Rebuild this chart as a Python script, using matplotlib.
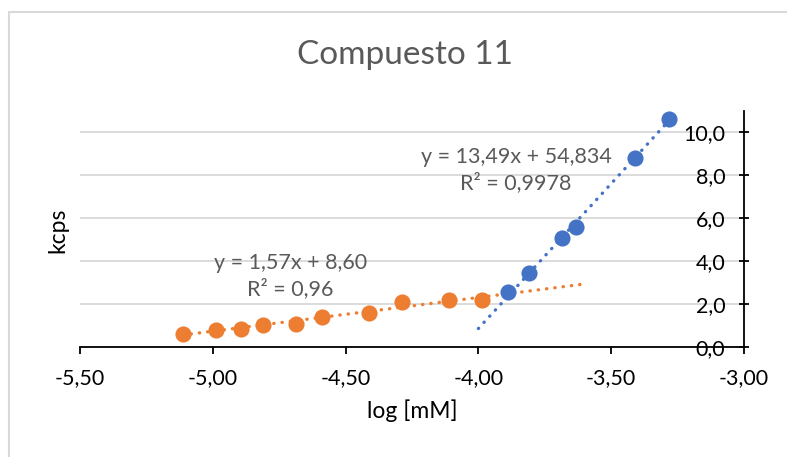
import numpy as np
import matplotlib.pyplot as plt
from matplotlib.patches import Rectangle

# data
x_alto = [-3.890, -3.810, -3.684, -3.633, -3.410, -3.284]
y_alto = [2.59, 3.44, 5.07, 5.60, 8.80, 10.65]
x_bajo = [-5.113, -4.988, -4.894, -4.812, -4.688, -4.590, -4.412, -4.287, -4.111, -3.988]
y_bajo = [0.60, 0.80, 0.87, 1.05, 1.10, 1.42, 1.61, 2.12, 2.21, 2.19]

# trendlines (slope, intercept) and the x range they cover
coef_alto = (13.49, 54.834)
rango_alto = (-4.00, -3.29)
coef_bajo = (1.57, 8.60)
rango_bajo = (-5.113, -3.59)

x_ticks = [-5.5, -5.0, -4.5, -4.0, -3.5, -3.0]
y_ticks = [0, 2, 4, 6, 8, 10]

azul = '#4472C4'
naranja = '#ED7D31'
gris = '#595959'

plt.rcParams['font.family'] = ['Lato', 'DejaVu Sans']

fig = plt.figure(figsize=(7.87, 4.57), dpi=100)
fig.patches.append(Rectangle((8.5 / 787, -0.1), 1.2, 1.1 - 12.5 / 457, transform=fig.transFigure,
                             fill=False, edgecolor='#d9d9d9', linewidth=1.5))
ax = fig.add_axes([80 / 787, 1 - 347.3 / 457, 664 / 787, 236.3 / 457])

for a, b, (x0, x1), c in [(coef_bajo[0], coef_bajo[1], rango_bajo, naranja),
                          (coef_alto[0], coef_alto[1], rango_alto, azul)]:
    xs = np.array([x0, x1])
    ax.plot(xs, a * xs + b, color=c, lw=2.4, linestyle=(0, (0.1, 2.4)),
            dash_capstyle='round', zorder=2)

ax.scatter(x_bajo, y_bajo, s=135, color=naranja, zorder=3, linewidths=0)
ax.scatter(x_alto, y_alto, s=135, color=azul, zorder=3, linewidths=0)

ax.set_xlim(-5.5, -3.0)
ax.set_ylim(0, 11)
ax.set_xticks(x_ticks)
ax.set_xticklabels([('%.2f' % v).replace('.', ',') for v in x_ticks])
ax.set_yticks(y_ticks)
ax.set_yticklabels([('%.1f' % v).replace('.', ',') for v in y_ticks])

ax.grid(axis='y', color='#d9d9d9', lw=1.3)
ax.set_axisbelow(True)
for s in ['top', 'left']:
    ax.spines[s].set_visible(False)
ax.spines['bottom'].set_linewidth(1.3)
ax.spines['right'].set_linewidth(1.3)

ax.tick_params(axis='x', direction='out', length=5, width=1.3, labelsize=15.5, pad=10)
ax.yaxis.set_ticks_position('right')
ax.tick_params(axis='y', direction='inout', length=7, width=1.3, labelsize=15.5,
               labelright=True, labelleft=False, pad=-17)
for t in ax.yaxis.get_major_ticks():
    t.label2.set_horizontalalignment('right')

ax.set_xlabel('log [mM]', fontsize=16.5, labelpad=8)
fig.text(58 / 787, 1 - 230 / 457, 'kcps', rotation=90, fontsize=16.5, ha='center', va='center')
fig.text(405 / 787, 1 - 55 / 457, 'Compuesto 11', fontsize=24, color=gris, ha='center', va='center')

ax.text(-3.858, 8.25, 'y = 13,49x + 54,834\nR² = 0,9978', fontsize=15.5, color=gris,
        ha='center', va='center', linespacing=1.3)
ax.text(-4.709, 3.32, 'y = 1,57x + 8,60\nR² = 0,96', fontsize=15.5, color=gris,
        ha='center', va='center', linespacing=1.3)

fig.savefig('out.png', dpi=100)
